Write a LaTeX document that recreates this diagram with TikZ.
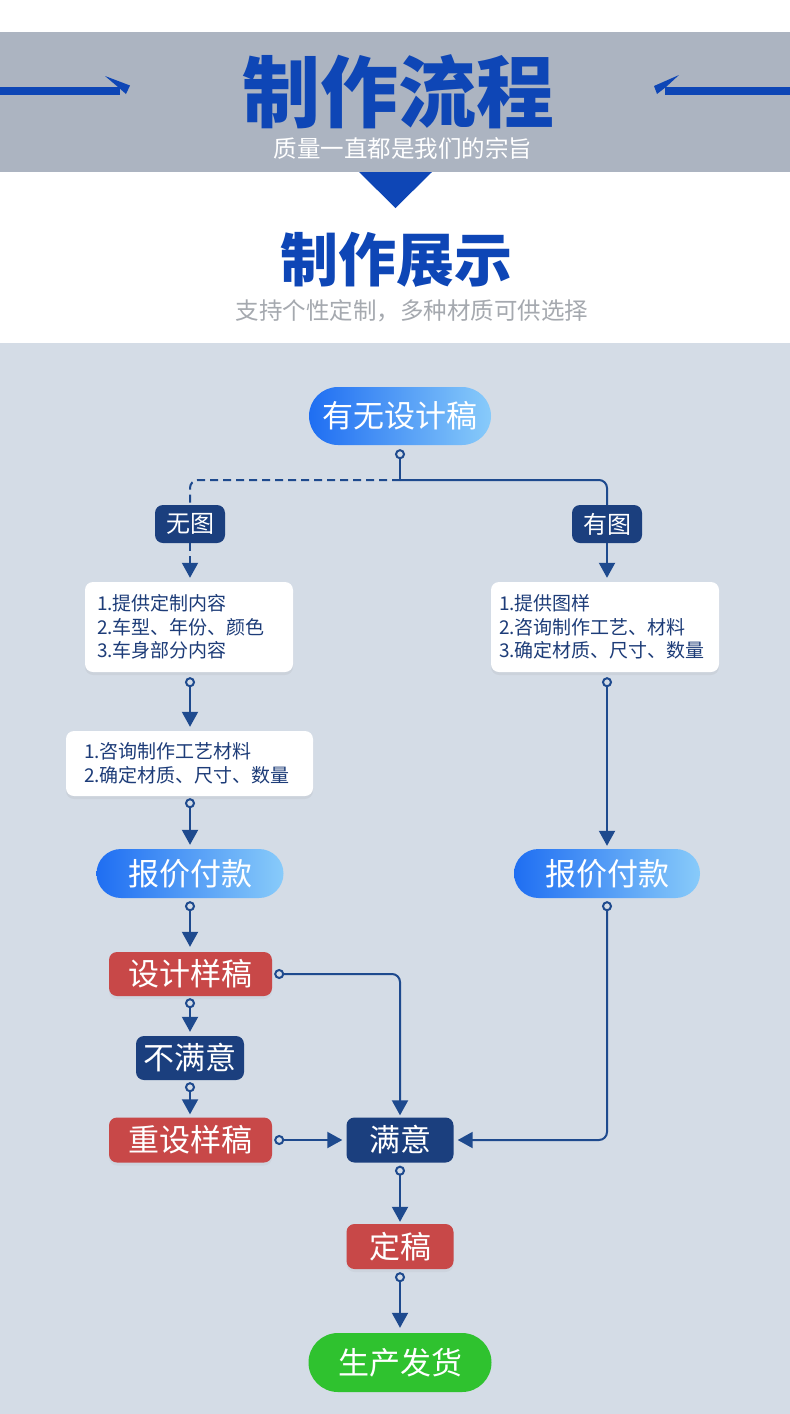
\documentclass[tikz,border=0pt]{standalone}
\usepackage{fontspec}
\newfontfamily\cjk{Noto Sans CJK SC}
\usetikzlibrary{arrows.meta,shadows}
\definecolor{band}{HTML}{ACB4C1}
\definecolor{ttl}{HTML}{0E46B6}
\definecolor{bgf}{HTML}{D4DCE6}
\definecolor{navy}{HTML}{1B3F7E}
\definecolor{redb}{HTML}{C84848}
\definecolor{greenb}{HTML}{2FC22F}
\definecolor{linec}{HTML}{1E4A8E}
\definecolor{blueL}{HTML}{1F6EF2}
\definecolor{blueR}{HTML}{88CBFA}
\definecolor{txtn}{HTML}{1D3C78}
\definecolor{subg}{HTML}{A5A9AF}
\begin{document}
\begin{tikzpicture}[x=1pt,y=-1pt,
  big/.style={font=\cjk\fontsize{31pt}{31pt}\selectfont, text=white, inner sep=0pt},
  pill/.style={big, left color=blueL, right color=blueR},
  navyb/.style={big, fill=navy, rounded corners=8pt},
  redbox/.style={big, fill=redb, rounded corners=8pt, drop shadow={shadow xshift=0pt, shadow yshift=-3pt, opacity=0.08}},
  greenbox/.style={big, fill=greenb},
  wbox/.style={fill=white, rounded corners=8pt, text=txtn, align=left, inner ysep=0pt,
     font=\cjk\fontsize{19pt}{23.5pt}\selectfont,
     drop shadow={shadow xshift=0pt, shadow yshift=-3pt, opacity=0.10}},
  conn/.style={draw=linec, line width=2pt},
  arrowend/.style={arrows={-Triangle[width=16pt,length=15pt]}},
  both/.style={arrows={Circle[open,length=10pt,width=10pt]-Triangle[width=16pt,length=15pt]}},
  cstart/.style={arrows={Circle[open,length=10pt,width=10pt]-}},
  dashpat/.style={dash pattern=on 8pt off 5pt}
]
\useasboundingbox (0,0) rectangle (790,1414);
% backgrounds
\fill[white] (0,0) rectangle (790,1414);
\fill[band] (0,32) rectangle (790,172);
\fill[bgf] (0,343) rectangle (790,1414);
% header arrows
\fill[ttl] (0,87) rectangle (120,95);
\fill[ttl] (105,76) -- (130,85.5) -- (126,94) -- (118,87) -- cycle;
\fill[ttl] (665,87) rectangle (790,95);
\fill[ttl] (679,75) -- (654,86) -- (657,94) -- (666,87) -- cycle;
\fill[ttl] (359,172) -- (432,172) -- (395.5,208) -- cycle;
% titles
\node[font=\cjk\bfseries\fontsize{78pt}{78pt}\selectfont, text=ttl, inner sep=0pt] (t1) at (398,92) {制作流程};
\node[font=\cjk\fontsize{23.5pt}{23.5pt}\selectfont, text=white, inner sep=0pt] (t2) at (403,148) {质量一直都是我们的宗旨};
\node[font=\cjk\bfseries\fontsize{58pt}{58pt}\selectfont, text=ttl, inner sep=0pt] (t3) at (396,260) {制作展示};
\node[font=\cjk\fontsize{23.5pt}{23.5pt}\selectfont, text=subg, inner sep=0pt] (t4) at (412,311) {支持个性定制，多种材质可供选择};
% nodes
\node[pill, minimum width=182pt, minimum height=58pt, rounded corners=29pt] (q) at (400,416) {有无设计稿};
\node[navyb, minimum width=70pt, minimum height=38pt, font=\cjk\fontsize{24pt}{24pt}\selectfont] (n1) at (190,524) {无图};
\node[navyb, minimum width=70pt, minimum height=38pt, font=\cjk\fontsize{24pt}{24pt}\selectfont] (y1) at (607,524) {有图};
\node[wbox, text width=184pt, inner xsep=12pt, minimum height=90pt] (bl1) at (189,627) {1.提供定制内容\\2.车型、年份、颜色\\3.车身部分内容};
\node[wbox, text width=212pt, inner xsep=8pt, minimum height=90pt] (br1) at (605,627) {1.提供图样\\2.咨询制作工艺、材料\\3.确定材质、尺寸、数量};
\node[wbox, text width=211pt, inner xsep=18pt, minimum height=65pt] (bl2) at (189.5,763.5) {1.咨询制作工艺材料\\2.确定材质、尺寸、数量};
\node[pill, minimum width=187pt, minimum height=49pt, rounded corners=24.5pt] (pl) at (190,873.5) {报价付款};
\node[pill, minimum width=186pt, minimum height=49pt, rounded corners=24.5pt] (pr) at (607,873.5) {报价付款};
\node[redbox, minimum width=163pt, minimum height=44pt] (s1) at (190.5,974) {设计样稿};
\node[navyb, minimum width=108pt, minimum height=44pt] (bm) at (190,1058) {不满意};
\node[redbox, minimum width=163pt, minimum height=45pt] (s2) at (190.5,1140) {重设样稿};
\node[navyb, minimum width=107pt, minimum height=45pt] (ok) at (400,1140) {满意};
\node[redbox, minimum width=107pt, minimum height=45pt] (fin) at (400,1246.5) {定稿};
\node[greenbox, minimum width=183pt, minimum height=59pt, rounded corners=29.5pt] (prod) at (400,1362.5) {生产发货};
% connectors
\coordinate (j) at (400,480);
\draw[conn, cstart, shorten <=4pt] (q.south) -- (j);
\draw[conn, rounded corners=8pt] (j) -| (y1.north);
\draw[conn, dashpat, rounded corners=8pt] (j) -| (n1.north);
\draw[conn, dashpat, arrowend, shorten >=4pt] (n1.south) -- (n1.south |- bl1.north);
\draw[conn, arrowend, shorten >=4pt] (y1.south) -- (y1.south |- br1.north);
\draw[conn, both, shorten <=5pt, shorten >=4pt] (n1 |- bl1.south) -- (n1 |- bl2.north);
\draw[conn, both, shorten <=2pt, shorten >=4pt] (n1 |- bl2.south) -- (n1 |- pl.north);
\draw[conn, both, shorten <=5pt, shorten >=3pt] (y1 |- br1.south) -- (y1 |- pr.north);
\draw[conn, both, shorten <=3pt, shorten >=5pt] (n1 |- pl.south) -- (n1 |- s1.north);
\draw[conn, both, shorten <=2pt, shorten >=4pt] (n1 |- s1.south) -- (n1 |- bm.north);
\draw[conn, both, shorten <=2pt, shorten >=3pt] (n1 |- bm.south) -- (n1 |- s2.north);
\draw[conn, both, shorten <=2pt, shorten >=2pt, rounded corners=8pt] (s1.east) -| (ok.north);
\draw[conn, both, shorten <=2pt, shorten >=4pt] (s2.east) -- (ok.west);
\draw[conn, both, shorten <=3pt, shorten >=4pt, rounded corners=8pt] (pr.south) |- (ok.east);
\draw[conn, both, shorten <=3pt, shorten >=2pt] (ok.south) -- (fin.north);
\draw[conn, both, shorten <=3pt, shorten >=5pt] (fin.south) -- (prod.north);
\end{tikzpicture}
\end{document}
